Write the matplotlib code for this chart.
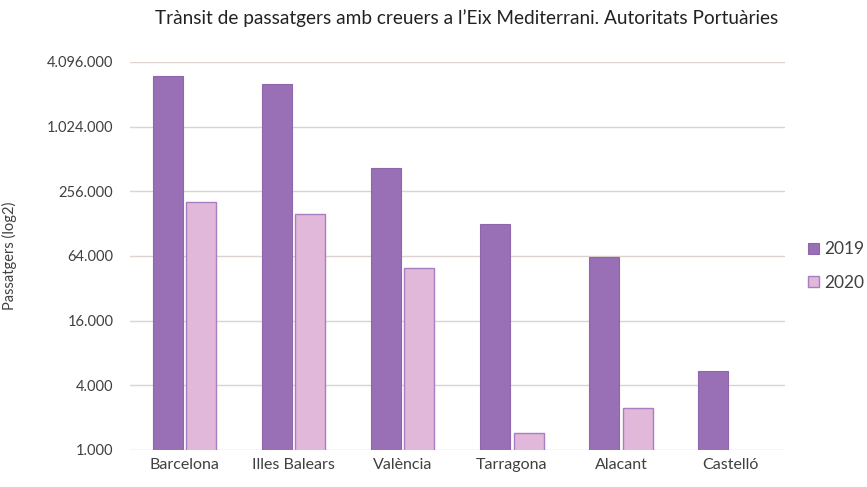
import matplotlib.pyplot as plt
import numpy as np
from matplotlib.ticker import FixedLocator, FuncFormatter, NullLocator

plt.rcParams['font.family'] = ['Lato', 'DejaVu Sans']

ports = ['Barcelona', 'Illes Balears', 'València', 'Tarragona', 'Alacant', 'Castelló']
pax_2019 = [3000000, 2550000, 420000, 128000, 62500, 5460]
pax_2020 = [205000, 156000, 49000, 1450, 2440, 0]
ticks = [1000, 4000, 16000, 64000, 256000, 1024000, 4096000]

fig = plt.figure(figsize=(8.67, 4.87), dpi=100)
ax = fig.add_axes([0.15, 0.076, 0.755, 0.797])

x = np.arange(len(ports))
w = 0.275
ax.bar(x - w / 2 - 0.015, pax_2019, w, color='#9970B6', edgecolor='#8E66AE',
       linewidth=0.8, label='2019', zorder=3)
ax.bar(x + w / 2 + 0.015, pax_2020, w, color='#E2B8DA', edgecolor='#A77FC0',
       linewidth=1.0, label='2020', zorder=3)

ax.set_yscale('log', base=2)
ax.set_ylim(1000, 4096000)
ax.set_xlim(-0.5, len(ports) - 0.5)
ax.yaxis.set_major_locator(FixedLocator(ticks))
ax.yaxis.set_minor_locator(NullLocator())
ax.yaxis.set_major_formatter(FuncFormatter(lambda v, p: f'{int(round(v)):,}'.replace(',', '.')))
ax.grid(axis='y', color='#DCD3CF', linewidth=1.0, zorder=0)
for s in ax.spines.values():
    s.set_visible(False)
ax.tick_params(axis='y', length=0, pad=12, labelsize=10.5, labelcolor='#404040')
ax.tick_params(axis='x', length=0, pad=6, labelsize=11.5, labelcolor='#404040')
ax.set_xticks(x)
ax.set_xticklabels(ports)
ax.set_ylabel('Passatgers (log2)', fontsize=10.5, color='#404040')
ax.yaxis.set_label_coords(-0.173, 0.5)

ax.legend(loc='center left', bbox_to_anchor=(1.036, 0.474), frameon=False,
          borderaxespad=0, borderpad=0,
          fontsize=12.5, handlelength=0.6, handleheight=0.6, handletextpad=0.35,
          labelspacing=1.0, labelcolor='#404040')

fig.text(0.538, 0.962, "Trànsit de passatgers amb creuers a l’Eix Mediterrani. Autoritats Portuàries",
         ha='center', va='center', fontsize=13.7, color='#222222')

fig.savefig('out.png', dpi=100)
